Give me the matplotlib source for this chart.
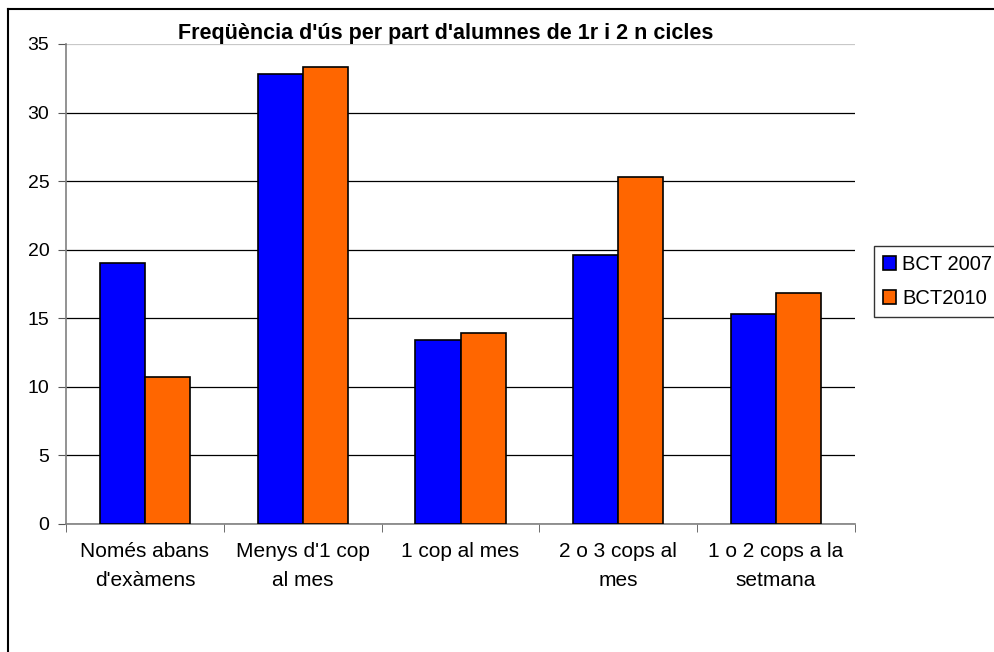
import matplotlib as mpl
mpl.use('Agg')
import matplotlib.pyplot as plt
import numpy as np
from matplotlib.lines import Line2D
from matplotlib.ticker import FixedLocator

plt.rcParams['font.family'] = ['Liberation Sans', 'DejaVu Sans']

categories = ["Només abans\nd'exàmens", "Menys d'1 cop\nal mes", "1 cop al mes",
              "2 o 3 cops al\nmes", "1 o 2 cops a la\nsetmana"]
series_names = ['BCT 2007', 'BCT2010']
bct2007 = [19.0, 32.8, 13.4, 19.6, 15.3]
bct2010 = [10.7, 33.35, 13.9, 25.3, 16.85]
y_ticks = [0, 5, 10, 15, 20, 25, 30, 35]
title = "Freqüència d'ús per part d'alumnes de 1r i 2 n cicles"

W, H = 994, 652
fig = plt.figure(figsize=(W / 100, H / 100), dpi=100)
ax = fig.add_axes([66 / W, 128 / H, 789 / W, 480 / H])

x = np.arange(len(categories))
width = 1 / 3.5
ax.bar(x - width / 2, bct2007, width, color='#0000FF', edgecolor='black',
       linewidth=1.2, label=series_names[0], zorder=3)
ax.bar(x + width / 2, bct2010, width, color='#FF6600', edgecolor='black',
       linewidth=1.2, label=series_names[1], zorder=3)

ax.set_xlim(-0.5, len(categories) - 0.5)
ax.set_ylim(0, 35)
ax.set_yticks(y_ticks)
ax.yaxis.grid(True, color='black', linewidth=0.9, zorder=0)
ax.set_axisbelow(True)
ax.get_ygridlines()[-1].set_color('#c8c8c8')

ax.set_xticks(x)
ax.set_xticklabels(categories, fontsize=15, linespacing=1.65)
ax.xaxis.set_minor_locator(FixedLocator(np.arange(-0.5, len(categories), 1.0)))
ax.tick_params(axis='x', which='major', length=0, pad=13)
ax.tick_params(axis='x', which='minor', length=6, color='#555555', direction='out')
ax.tick_params(axis='y', length=6, color='#555555', labelsize=14, pad=6)

for side in ('top', 'right'):
    ax.spines[side].set_visible(False)
for side in ('left', 'bottom'):
    ax.spines[side].set_color('#808080')
    ax.spines[side].set_linewidth(1.2)

fig.text(446 / W, 1 - 33 / H, title, ha='center', va='center',
         fontsize=15.5, fontweight='bold')

leg = fig.legend(loc='upper left', bbox_to_anchor=(874 / W, 1 - 246 / H),
                 fontsize=14.5, frameon=True, fancybox=False, handlelength=0.65,
                 handleheight=0.65, handletextpad=0.3, borderpad=0.45,
                 labelspacing=0.75, borderaxespad=0)
leg.get_frame().set_edgecolor('black')
leg.get_frame().set_linewidth(1.0)

# outer chart frame (cut off on right and bottom)
fig.add_artist(Line2D([8 / W, 8 / W], [0, 1 - 9 / H], color='black', linewidth=1.5,
                      transform=fig.transFigure))
fig.add_artist(Line2D([8 / W, 1], [1 - 9 / H, 1 - 9 / H], color='black', linewidth=1.5,
                      transform=fig.transFigure))

fig.savefig('out.png', dpi=100)
plt.close()
